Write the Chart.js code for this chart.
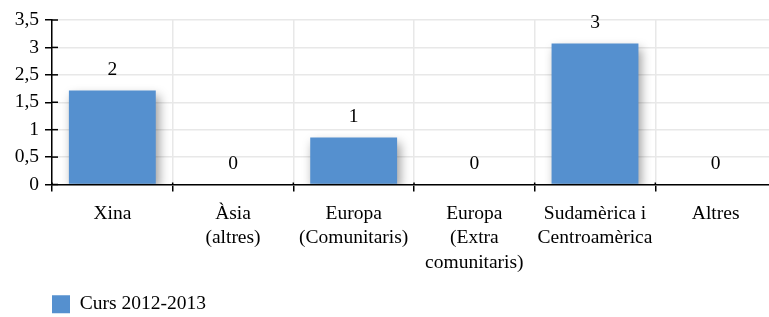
<!DOCTYPE html>
<html>
<head>
<meta charset="utf-8">
<script src="https://cdn.jsdelivr.net/npm/chart.js@4.4.0/dist/chart.umd.min.js"></script>
<style>
html,body{margin:0;padding:0;overflow:hidden;background:#fff;width:769px;height:317px;}
#wrap{width:777px;height:317px;overflow:hidden;}
</style>
</head>
<body>
<div id="wrap"><canvas id="c" width="777" height="324"></canvas></div>
<script>
const categories = [["Xina"], ["Àsia", "(altres)"], ["Europa", "(Comunitaris)"], ["Europa", "(Extra", "comunitaris)"], ["Sudamèrica i", "Centroamèrica"], ["Altres"]];
const seriesName = "Curs 2012-2013";
const values = [2, 0, 1, 0, 3, 0];
const yTickLabels = ["0", "0,5", "1", "1,5", "2,5", "3", "3,5"];
const yMax = 3.5;

const FONT = "'Liberation Serif', 'DejaVu Serif', serif";
const FS = 19.5;
const BAR = '#5590CF';

const shadowPlugin = {
  id: 'shadow',
  beforeDatasetsDraw(chart) {
    const ctx = chart.ctx;
    ctx.save();
    ctx.shadowColor = 'rgba(0,0,0,0.4)';
    ctx.shadowBlur = 10;
    ctx.shadowOffsetX = 3;
    ctx.shadowOffsetY = 5;
  },
  afterDatasetsDraw(chart) {
    chart.ctx.restore();
    const ctx = chart.ctx;
    const meta = chart.getDatasetMeta(0);
    ctx.save();
    ctx.fillStyle = '#000';
    ctx.font = FS + "px " + FONT;
    ctx.textAlign = 'center';
    ctx.textBaseline = 'middle';
    meta.data.forEach((bar, i) => {
      ctx.fillText(String(Math.round(values[i])), bar.x, bar.y - 21);
    });
    const y = chart.scales.y;
    ctx.strokeStyle = '#000';
    ctx.lineWidth = 1.5;
    y.ticks.forEach((t, i) => {
      const py = y.getPixelForTick(i);
      ctx.beginPath();
      ctx.moveTo(y.right, py);
      ctx.lineTo(y.right + 6, py);
      ctx.stroke();
    });
    const x = chart.scales.x;
    const half = (x.getPixelForValue(1) - x.getPixelForValue(0)) / 2;
    for (let i = 0; i <= categories.length; i++) {
      const px = x.getPixelForValue(i) - half;
      ctx.beginPath();
      ctx.moveTo(px, x.top - 2);
      ctx.lineTo(px, x.top);
      ctx.stroke();
    }
    ctx.restore();
  }
};

new Chart(document.getElementById('c'), {
  type: 'bar',
  data: {
    labels: categories,
    datasets: [{
      label: seriesName,
      data: values,
      backgroundColor: BAR,
      borderWidth: 0,
      barPercentage: 0.72,
      categoryPercentage: 1.0
    }]
  },
  options: {
    responsive: false,
    animation: false,
    layout: { padding: { top: 20, right: 1, left: 0, bottom: 0 } },
    plugins: {
      legend: {
        position: 'bottom',
        align: 'start',
        fullSize: false,
        labels: {
          font: { family: FONT, size: FS },
          color: '#000',
          boxWidth: 18,
          boxHeight: 18,
          padding: 0
        }
      },
      tooltip: { enabled: false }
    },
    scales: {
      x: {
        offset: true,
        grid: {
          offset: true,
          color: '#e8e8e8',
          lineWidth: 1.5,
          tickColor: '#000',
          tickLength: 7,
          tickWidth: 1.5,
          drawOnChartArea: true
        },
        border: { color: '#000', width: 1.5 },
        ticks: {
          color: '#000',
          font: { family: FONT, size: FS, lineHeight: 1.26 },
          padding: 10,
          maxRotation: 0,
          autoSkip: false
        },
        afterFit(s) { s.height = 110; }
      },
      y: {
        min: 0,
        max: yMax,
        grid: {
          color: '#e8e8e8',
          lineWidth: 1.5,
          tickColor: '#000',
          tickLength: 7,
          tickWidth: 1.5
        },
        border: { color: '#000', width: 1.5 },
        ticks: {
          stepSize: yMax / 6,
          autoSkip: false,
          color: '#000',
          font: { family: FONT, size: FS },
          padding: 6,
          callback: (v, i) => yTickLabels[i]
        },
        afterFit(s) { s.width = 52; }
      }
    }
  },
  plugins: [shadowPlugin]
});
</script>
</body>
</html>
